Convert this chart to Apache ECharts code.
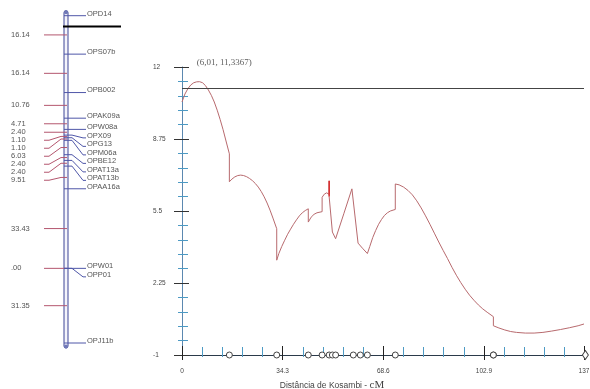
<!DOCTYPE html>
<html>
<head>
<meta charset="utf-8">
<script src="https://cdn.jsdelivr.net/npm/echarts@6/dist/echarts.min.js"></script>
<style>
html, body { margin: 0; padding: 0; background: #fff; }
#chart { width: 590px; height: 389px; }
</style>
</head>
<body>
<div id="chart"></div>
<script>
// Linkage group: marker order and Kosambi distances (cM) between neighbours
const markerNames = ['OPD14', 'OPS07b', 'OPB002', 'OPAK09a', 'OPW08a', 'OPX09', 'OPG13',
  'OPM06a', 'OPBE12', 'OPAT13a', 'OPAT13b', 'OPAA16a', 'OPW01', 'OPP01', 'OPJ11b'];
const markerIntervals = [16.14, 16.14, 10.76, 4.71, 2.40, 1.10, 1.10, 6.03, 2.40, 2.40, 9.51, 33.43, 0.00, 31.35];
const intervalLabels = ['16.14', '16.14', '10.76', '4.71', '2.40', '1.10', '1.10', '6.03', '2.40', '2.40', '9.51', '33.43', '.00', '31.35'];

// LOD profile along the group: [position cM, LOD]
const lodCurve = [
  [0, 10.42], [1, 10.78], [2, 11.02], [3, 11.19], [4, 11.29], [5, 11.33], [6.01, 11.3367],
  [7, 11.29], [8, 11.16], [9, 10.96], [10, 10.72], [11, 10.42], [12, 10.05], [13, 9.63],
  [14, 9.17], [15, 8.66], [16.14, 8.08], [16.14, 6.82], [17, 6.94], [18, 7.04], [19, 7.1],
  [20, 7.12], [21, 7.1], [22, 7.05], [23, 6.97], [24, 6.87], [25, 6.74], [26, 6.58],
  [27, 6.38], [28, 6.14], [29, 5.86], [30, 5.54], [31, 5.18], [32.28, 4.7], [32.28, 3.28],
  [33, 3.58], [34, 3.9], [35, 4.18], [36, 4.45], [37, 4.68], [38, 4.9], [39, 5.1],
  [40, 5.28], [41, 5.42], [42, 5.52], [43.04, 5.6], [43.04, 5.0], [44, 5.22], [45, 5.35],
  [46, 5.42], [47.75, 5.47], [47.75, 6.12], [48.5, 6.26], [49.3, 6.32], [50.15, 6.25],
  [50.15, 6.86], [50.15, 6.15], [51.25, 4.55], [52.35, 4.25], [55.2, 5.4], [57.9, 6.5],
  [60.0, 4.05], [61.5, 3.82], [63.18, 3.58], [64, 3.9], [65, 4.3], [66, 4.62], [67, 4.9],
  [68, 5.12], [69, 5.3], [70, 5.42], [71, 5.5], [72.69, 5.57], [72.69, 6.72], [74, 6.68],
  [75.5, 6.58], [77, 6.43], [78.5, 6.23], [80, 5.96], [81.5, 5.64], [83, 5.28], [84.5, 4.9],
  [86, 4.5], [87.5, 4.1], [89, 3.72], [90.5, 3.35], [92, 2.96], [93.5, 2.6], [95, 2.27],
  [96.5, 1.97], [98, 1.7], [99.5, 1.47], [101, 1.26], [102.5, 1.08], [104, 0.93],
  [106.12, 0.73], [106.12, 0.32], [108, 0.22], [110, 0.13], [112, 0.06], [114, 0.02],
  [117, -0.01], [120, -0.01], [123, 0.02], [126, 0.08], [129, 0.15], [132, 0.23],
  [135, 0.32], [137, 0.4]
];
const peakPoint = [6.01, 11.3367];
const lodThreshold = 11.05;
const spikePosition = 50.15;
const qtlBarPosition = 4.5;

// Axis ticks
const xTicks = [0, 34.3, 68.6, 102.9, 137];
const yTicks = [-1, 2.25, 5.5, 8.75, 12];

// Cumulative marker positions along the group
const markerPos = [0];
markerIntervals.forEach((d, i) => markerPos.push(+(markerPos[i] + d).toFixed(2)));
const mapLength = markerPos[markerPos.length - 1];

const SANS = '"Liberation Sans", Arial, sans-serif';
const SERIF = '"Liberation Serif", "Times New Roman", serif';
const commaNum = v => String(v).replace('.', ',');

// Push labels downwards so that they keep a minimum spacing
function spreadDown(ys, gap) {
  const out = [];
  ys.forEach((y, i) => out.push(i ? Math.max(y, out[i - 1] + gap) : y));
  return out;
}

function renderMap(params, api) {
  const yOf = cm => api.coord([0, cm])[1];
  const xOf = v => api.coord([v, 0])[0];
  const children = [];
  const barX = xOf(64), barW = 4;
  const top = yOf(0), bottom = yOf(mapLength);

  children.push({
    type: 'rect',
    shape: { x: barX, y: top - 5, width: barW, height: bottom - top + 10, r: 2 },
    style: { fill: '#f4f4fb', stroke: '#3d4596', lineWidth: 1 }
  });
  children.push({ type: 'circle', shape: { cx: barX + 2, cy: top - 3.5, r: 2 }, style: { fill: '#7078b8' } });
  children.push({ type: 'circle', shape: { cx: barX + 2, cy: bottom + 3.5, r: 2 }, style: { fill: '#7078b8' } });

  // distances between neighbours, on the left
  const mids = markerIntervals.map((d, i) => yOf((markerPos[i] + markerPos[i + 1]) / 2));
  const midLabels = spreadDown(mids, 8);
  mids.forEach((my, i) => {
    const ly = midLabels[i];
    const pts = Math.abs(ly - my) < 0.5
      ? [[xOf(44), my], [xOf(67), my]]
      : [[xOf(44), ly], [xOf(49), ly], [xOf(61), my], [xOf(67), my]];
    children.push({ type: 'polyline', shape: { points: pts }, style: { stroke: '#b4566e', lineWidth: 1, fill: null } });
    children.push({
      type: 'text', x: xOf(11), y: ly,
      style: { text: intervalLabels[i], fill: '#555', font: '7.5px ' + SANS, align: 'left', verticalAlign: 'middle' }
    });
  });

  // marker names, on the right
  const ys = markerPos.map(yOf);
  const nameYs = spreadDown(ys, 8.5);
  ys.forEach((y, i) => {
    const ly = nameYs[i];
    const pts = Math.abs(ly - y) < 0.5
      ? [[xOf(64), y], [xOf(86), y]]
      : [[xOf(64), y], [xOf(72), y], [xOf(83), ly], [xOf(86), ly]];
    children.push({ type: 'polyline', shape: { points: pts }, style: { stroke: '#4f57a8', lineWidth: 1, fill: null } });
    children.push({
      type: 'text', x: xOf(87), y: ly - 2.2,
      style: { text: markerNames[i], fill: '#555', font: '7.5px ' + SANS, align: 'left', verticalAlign: 'middle' }
    });
  });

  // QTL position on the map
  const qy = yOf(qtlBarPosition);
  children.push({ type: 'line', shape: { x1: xOf(63), y1: qy, x2: xOf(121), y2: qy }, style: { stroke: '#000', lineWidth: 2 } });

  return { type: 'group', children };
}

const chart = echarts.init(document.getElementById('chart'), null, { renderer: 'canvas' });

const xScale = { min: xTicks[0], max: xTicks[xTicks.length - 1], interval: xTicks[1] - xTicks[0] };
const yScale = { min: yTicks[0], max: yTicks[yTicks.length - 1], interval: yTicks[1] - yTicks[0] };
const minorColor = '#4d9ac4';

const option = {
  animation: false,
  backgroundColor: '#fff',
  grid: [
    { left: 0, top: 15.7, width: 130, height: 327.3, containLabel: false, outerBoundsMode: 'none' },
    { left: 182, right: 6, top: 67, bottom: 34, containLabel: false, outerBoundsMode: 'none' }
  ],
  xAxis: [
    { gridIndex: 0, type: 'value', min: 0, max: 130, show: false },
    {
      gridIndex: 1, type: 'value', position: 'bottom', ...xScale,
      axisLine: { onZero: false, lineStyle: { color: '#2b3a4a', width: 1 } },
      axisTick: { inside: true, length: 9, lineStyle: { color: '#222' } },
      minorTick: { show: true, splitNumber: 5, length: 8, lineStyle: { color: minorColor } },
      axisLabel: {
        margin: 13, fontSize: 6.5, color: '#444', fontFamily: SANS,
        formatter: v => String(+v.toFixed(1))
      },
      splitLine: { show: false },
      name: '{a|Distância de Kosambi - }{b|cM}',
      nameLocation: 'middle', nameGap: 22,
      nameTextStyle: {
        padding: [0, 102, 0, 0],
        rich: {
          a: { fontSize: 8.5, fontFamily: SANS, color: '#444' },
          b: { fontSize: 11, fontFamily: SERIF, color: '#444' }
        }
      }
    },
    {
      gridIndex: 1, type: 'value', position: 'bottom', ...xScale,
      axisLine: { show: false, onZero: false },
      axisTick: { inside: false, length: 5, lineStyle: { color: '#222' } },
      minorTick: { show: true, splitNumber: 5, length: 2, lineStyle: { color: minorColor } },
      axisLabel: { show: false },
      splitLine: { show: false }
    }
  ],
  yAxis: [
    { gridIndex: 0, type: 'value', min: 0, max: mapLength, inverse: true, show: false },
    {
      gridIndex: 1, type: 'value', position: 'left', ...yScale,
      axisLine: { show: true, onZero: false, lineStyle: { color: '#5b88b0', width: 1 } },
      axisTick: { show: true, inside: true, length: 7, lineStyle: { color: '#333' } },
      minorTick: { show: true, splitNumber: 5, length: 6, lineStyle: { color: minorColor } },
      axisLabel: { margin: 29, align: 'left', fontSize: 6.5, color: '#444', fontFamily: SANS },
      splitLine: { show: false }
    },
    {
      gridIndex: 1, type: 'value', position: 'left', ...yScale,
      axisLine: { show: false, onZero: false },
      axisTick: { show: true, inside: false, length: 8, lineStyle: { color: '#333' } },
      minorTick: { show: true, splitNumber: 5, length: 4, lineStyle: { color: minorColor } },
      axisLabel: { show: false },
      splitLine: { show: false }
    }
  ],
  series: [
    {
      type: 'custom', xAxisIndex: 0, yAxisIndex: 0,
      data: [[0, 0]], renderItem: renderMap, silent: true
    },
    {
      type: 'line', xAxisIndex: 1, yAxisIndex: 1,
      data: lodCurve, showSymbol: false, symbol: 'none',
      lineStyle: { color: '#b86a6e', width: 1 },
      markLine: {
        silent: true, symbol: ['none', 'none'],
        label: { show: false },
        lineStyle: { color: '#444', width: 1, type: 'solid' },
        data: [{ yAxis: lodThreshold }]
      },
      z: 3
    },
    {
      type: 'line', xAxisIndex: 1, yAxisIndex: 1,
      data: lodCurve.filter(p => p[0] === spikePosition),
      showSymbol: false, symbol: 'none',
      lineStyle: { color: '#e01818', width: 1.2 },
      z: 4
    },
    {
      type: 'scatter', xAxisIndex: 1, yAxisIndex: 1,
      data: markerPos.map(p => [p, yScale.min]),
      symbol: (v, p) => p.dataIndex === 0 ? 'none' : (p.dataIndex === markerPos.length - 1 ? 'diamond' : 'circle'),
      symbolSize: (v, p) => p.dataIndex === markerPos.length - 1 ? [6, 9] : 6,
      itemStyle: { color: '#fff', borderColor: '#444', borderWidth: 1, opacity: 1 },
      clip: false, silent: true, z: 5
    },
    {
      type: 'scatter', xAxisIndex: 1, yAxisIndex: 1,
      data: [peakPoint], symbolSize: 0, silent: true,
      label: {
        show: true, position: [-3, -24],
        formatter: () => '(' + commaNum(peakPoint[0]) + ', ' + commaNum(peakPoint[1]) + ')',
        fontFamily: SERIF, fontSize: 9, color: '#333'
      },
      z: 6
    }
  ]
};

chart.setOption(option);
</script>
</body>
</html>
